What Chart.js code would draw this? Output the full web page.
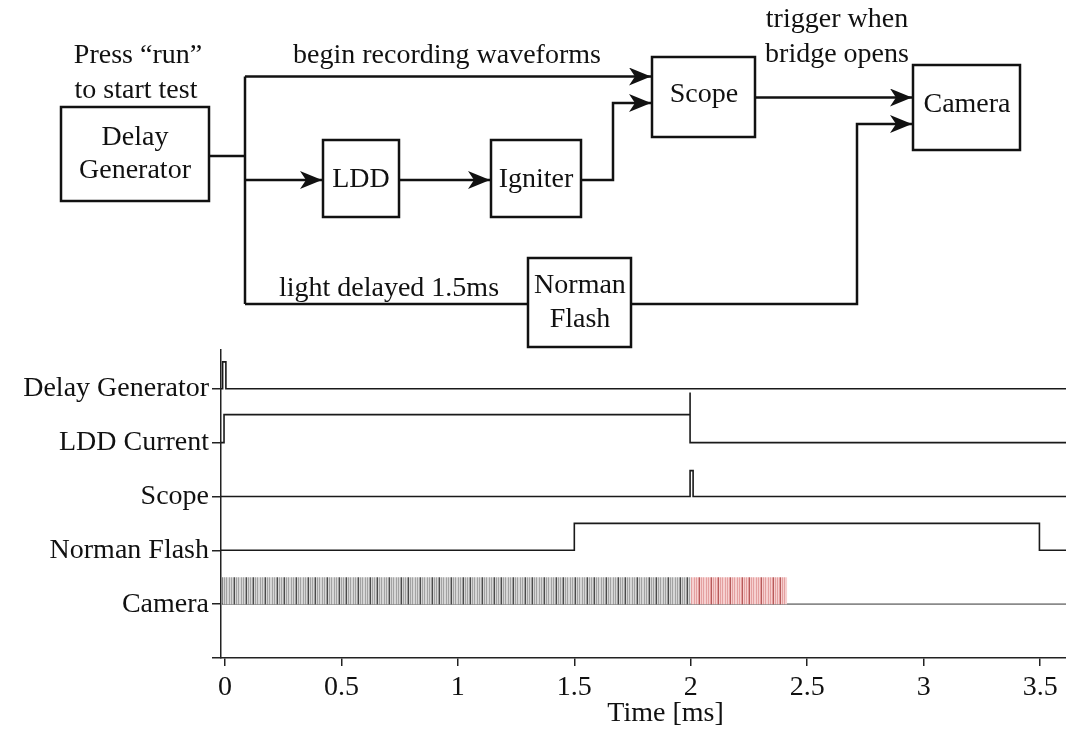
<!DOCTYPE html>
<html>
<head>
<meta charset="utf-8">
<script src="https://cdn.jsdelivr.net/npm/chart.js@4/dist/chart.umd.min.js"></script>
<style>
  html, body { margin: 0; padding: 0; background: #fff; overflow: hidden; }
  #wrap { position: relative; width: 1066px; height: 730px; overflow: hidden; }
  #timing { position: absolute; left: 0; top: 0; }
  #diagram { position: absolute; left: 0; top: 0; }
  #diagram text { font-family: "Liberation Serif", "Times New Roman", serif; font-size: 28px; fill: #111; text-anchor: middle; }
  #diagram .box { fill: none; stroke: #111; stroke-width: 2.5; }
  #diagram .wire { fill: none; stroke: #111; stroke-width: 2.5; }
  #diagram .head { fill: #111; stroke: none; }
</style>
</head>
<body>
<div id="wrap">
  <canvas id="timing" width="1110" height="730"></canvas>
  <svg id="diagram" width="1066" height="350" viewBox="0 0 1066 350">
    <defs>
      <marker id="arr" viewBox="0 0 22 18" refX="22" refY="9" markerWidth="22" markerHeight="18" markerUnits="userSpaceOnUse" orient="auto">
        <path class="head" d="M22,9 L0,0 L6,9 L0,18 Z"/>
      </marker>
    </defs>

    <!-- boxes -->
    <rect class="box" x="61" y="107" width="148" height="94"/>
    <rect class="box" x="323" y="140" width="76" height="77"/>
    <rect class="box" x="491" y="140" width="90" height="77"/>
    <rect class="box" x="652" y="57" width="103" height="80"/>
    <rect class="box" x="913" y="65" width="107" height="85"/>
    <rect class="box" x="528" y="258" width="103" height="89"/>

    <!-- wires -->
    <polyline class="wire" points="209,156 245,156"/>
    <polyline class="wire" points="245,76.5 245,304"/>
    <polyline class="wire" points="245,76.5 651,76.5" marker-end="url(#arr)"/>
    <polyline class="wire" points="245,180 322,180" marker-end="url(#arr)"/>
    <polyline class="wire" points="399,180 490,180" marker-end="url(#arr)"/>
    <polyline class="wire" points="581,180 613,180 613,103 651,103" marker-end="url(#arr)"/>
    <polyline class="wire" points="755,97.5 912,97.5" marker-end="url(#arr)"/>
    <polyline class="wire" points="245,304 528,304"/>
    <polyline class="wire" points="631,304 857,304 857,124 912,124" marker-end="url(#arr)"/>

    <!-- labels -->
    <text x="138" y="63">Press “run”</text>
    <text x="136" y="98">to start test</text>
    <text x="135" y="145">Delay</text>
    <text x="135" y="178">Generator</text>
    <text x="447" y="63">begin recording waveforms</text>
    <text x="361" y="187">LDD</text>
    <text x="536" y="187">Igniter</text>
    <text x="704" y="102">Scope</text>
    <text x="837" y="27">trigger when</text>
    <text x="837" y="62">bridge opens</text>
    <text x="967" y="112">Camera</text>
    <text x="389" y="296">light delayed 1.5ms</text>
    <text x="580" y="293">Norman</text>
    <text x="580" y="327">Flash</text>
  </svg>
</div>
<script>
// lane names for the y axis (index = lane level)
const laneNames = ['', 'Camera', 'Norman Flash', 'Scope', 'LDD Current', 'Delay Generator'];
const laneLevels = [0, 1, 2, 3, 4, 5];
const timeTicks = [0, 0.5, 1, 1.5, 2, 2.5, 3, 3.5];

// step signals, time in ms
const delayGenTime = [-0.017, -0.010, -0.010, 0.004, 0.004, 3.8];
const delayGenLevel = [5, 5, 5.5, 5.5, 5, 5];

const lddTime = [-0.017, -0.004, -0.004, 1.997, 1.997, 1.997, 3.8];
const lddLevel = [4, 4, 4.52, 4.52, 4.93, 4, 4];

const scopeTime = [-0.017, 1.997, 1.997, 2.01, 2.01, 3.8];
const scopeLevel = [3, 3, 3.48, 3.48, 3, 3];

const flashTime = [-0.017, 1.5, 1.5, 3.497, 3.497, 3.8];
const flashLevel = [2, 2, 2.5, 2.5, 2, 2];

// camera: baseline plus recorded frame bands (before / after bridge trigger)
const cameraBaseTime = [-0.017, 3.8];
const cameraBaseLevel = [1, 1];
const cameraPreTime = [-0.012, 2.0];
const cameraPostTime = [2.0, 2.414];
const cameraFrameTop = [1.5, 1.5];

const toPoints = (xs, ys) => xs.map((x, i) => ({x: x, y: ys[i]}));

// vertical frame stripes, drawn as a fill pattern
function stripes(bg, mid, dark) {
    const c = document.createElement('canvas');
    c.width = 31;
    c.height = 8;
    const g = c.getContext('2d');
    g.fillStyle = bg;
    g.fillRect(0, 0, c.width, c.height);
    g.fillStyle = mid;
    [0, 2, 4, 7, 9, 12, 14, 16, 19, 21, 24, 26, 28].forEach(x => g.fillRect(x, 0, 1, c.height));
    g.fillStyle = dark;
    [5, 17, 29].forEach(x => g.fillRect(x, 0, 1, c.height));
    return g.createPattern(c, 'repeat');
}

const stepLine = (label, data, color) => ({
    label: label,
    data: data,
    borderColor: color,
    borderWidth: 1.6,
    pointRadius: 0,
    tension: 0,
    fill: false
});

const ctx = document.getElementById('timing').getContext('2d');
const grayStripes = stripes('#d6d6d6', '#a2a2a2', '#4a4a4a');
const redStripes = stripes('#f6d0d0', '#e4a0a0', '#b65a5a');

new Chart(ctx, {
    type: 'line',
    data: {
        datasets: [
            {
                label: 'Camera frames',
                data: toPoints(cameraPreTime, cameraFrameTop),
                borderWidth: 0,
                pointRadius: 0,
                backgroundColor: grayStripes,
                fill: {value: 1}
            },
            {
                label: 'Camera frames after trigger',
                data: toPoints(cameraPostTime, cameraFrameTop),
                borderWidth: 0,
                pointRadius: 0,
                backgroundColor: redStripes,
                fill: {value: 1}
            },
            stepLine('Camera', toPoints(cameraBaseTime, cameraBaseLevel), '#8a8a8a'),
            stepLine('Norman Flash', toPoints(flashTime, flashLevel), '#1a1a1a'),
            stepLine('Scope', toPoints(scopeTime, scopeLevel), '#1a1a1a'),
            stepLine('LDD Current', toPoints(lddTime, lddLevel), '#1a1a1a'),
            stepLine('Delay Generator', toPoints(delayGenTime, delayGenLevel), '#1a1a1a')
        ]
    },
    options: {
        responsive: false,
        animation: false,
        devicePixelRatio: 1,
        layout: {
            padding: {top: 350, left: 0, right: 0, bottom: 0}
        },
        plugins: {
            legend: {display: false},
            tooltip: {enabled: false}
        },
        scales: {
            x: {
                type: 'linear',
                min: -0.017,
                max: 3.8,
                afterBuildTicks: scale => {
                    scale.ticks = timeTicks.map(v => ({value: v}));
                },
                afterFit: scale => {
                    scale.height = 72;
                },
                grid: {
                    drawOnChartArea: false,
                    drawTicks: true,
                    tickLength: 8,
                    color: '#222',
                    lineWidth: 1.5
                },
                border: {display: true, color: '#222', width: 1.5},
                ticks: {
                    padding: 5,
                    color: '#111',
                    font: {family: 'Liberation Serif', size: 28},
                    maxRotation: 0,
                    callback: value => String(value)
                },
                title: {
                    display: true,
                    text: 'Time [ms]',
                    color: '#111',
                    font: {family: 'Liberation Serif', size: 28},
                    padding: {top: 0, bottom: 0}
                }
            },
            y: {
                type: 'linear',
                min: 0,
                max: 5.72,
                afterBuildTicks: scale => {
                    scale.ticks = laneLevels.map(v => ({value: v}));
                },
                afterFit: scale => {
                    scale.width = 221;
                },
                grid: {
                    drawOnChartArea: false,
                    drawTicks: true,
                    tickLength: 9,
                    color: '#222',
                    lineWidth: 1.5
                },
                border: {display: true, color: '#222', width: 1.5},
                ticks: {
                    padding: 3,
                    color: '#111',
                    font: {family: 'Liberation Serif', size: 28},
                    callback: value => laneNames[value] || ''
                }
            }
        }
    }
});
</script>
</body>
</html>
